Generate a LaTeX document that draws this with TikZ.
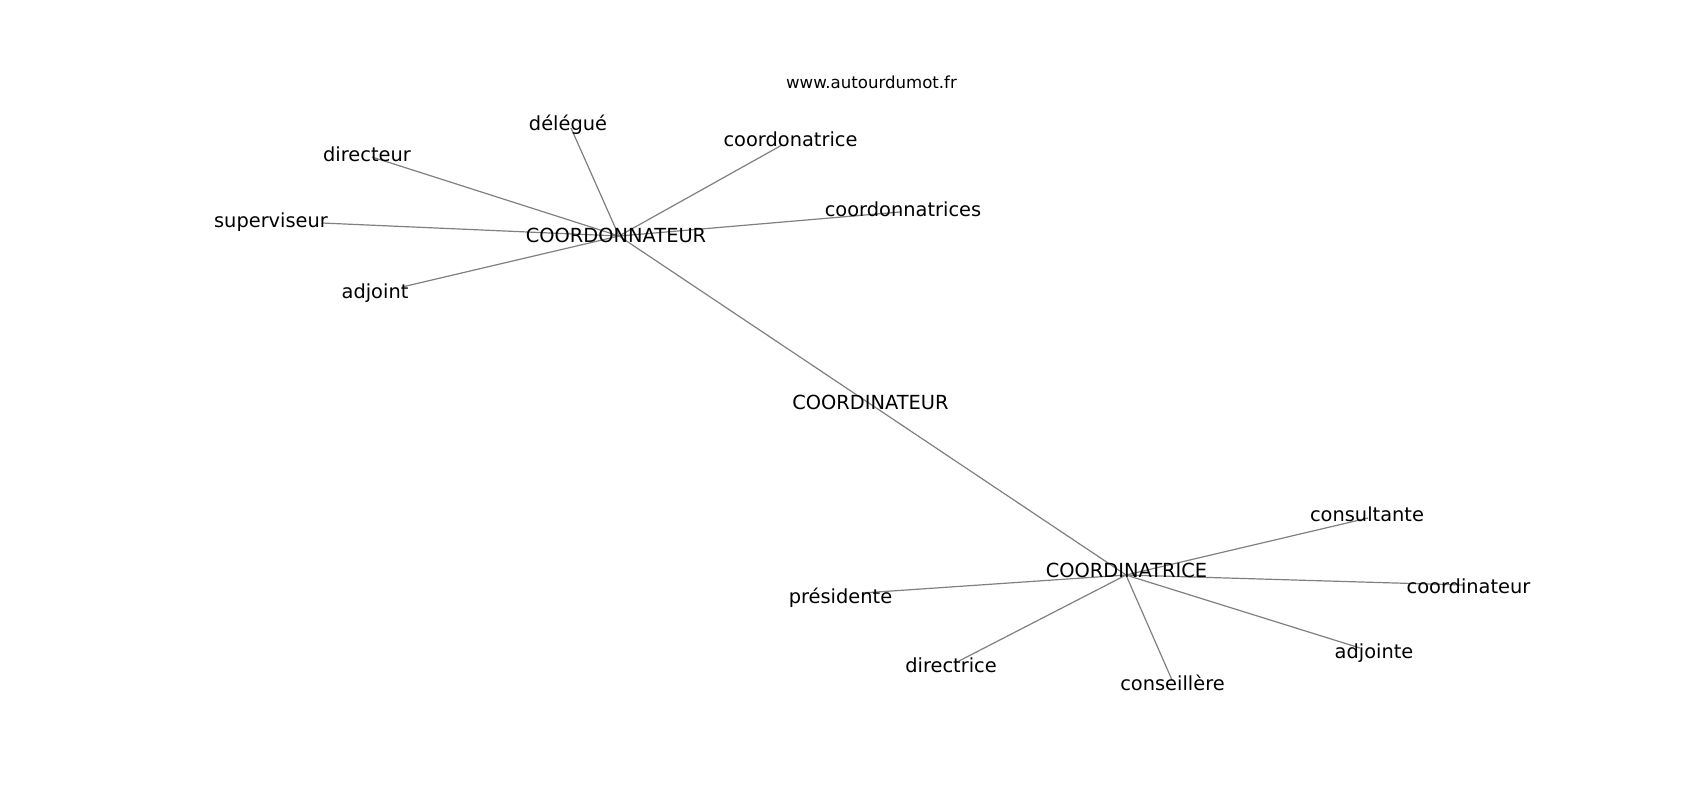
\documentclass[tikz,border=0pt]{standalone}
\usepackage{fontspec}
\setmainfont{DejaVu Sans}
\begin{document}
\begin{tikzpicture}[x=0.5pt,y=-0.5pt,
  lbl/.style={anchor=base, inner sep=0pt, text=black, font=\fontsize{9.7}{11}\selectfont},
  small/.style={anchor=base, inner sep=0pt, text=black, font=\fontsize{8.3}{10}\selectfont},
  edge/.style={draw=black!50, line width=0.6pt}]
\useasboundingbox (0,0) rectangle (1700,800);
\fill[white] (0,0) rectangle (1700,800);
% node positions
\coordinate (h1) at (619,236);
\coordinate (h2) at (1126,575);
\coordinate (c) at (870,403.8);
\coordinate (p-delegue) at (571,128);
\coordinate (p-directeur) at (372,157);
\coordinate (p-superviseur) at (322,223);
\coordinate (p-adjoint) at (402,287);
\coordinate (p-coordonatrice) at (782,145);
\coordinate (p-coordonnatrices) at (900,212);
\coordinate (p-consultante) at (1368,518);
\coordinate (p-coordinateur) at (1463,585);
\coordinate (p-adjointe) at (1360,648);
\coordinate (p-conseillere) at (1172,680);
\coordinate (p-directrice) at (957,662);
\coordinate (p-presidente) at (862,593);
% edges
\draw[edge] (h1) -- (c) -- (h2);
\foreach \n in {delegue,directeur,superviseur,adjoint,coordonatrice,coordonnatrices}
  \draw[edge] (h1) -- (p-\n);
\foreach \n in {consultante,coordinateur,adjointe,conseillere,directrice,presidente}
  \draw[edge] (h2) -- (p-\n);
% labels
\node[small] (www) at (871.5,88) {www.autourdumot.fr};
\node[lbl] (t-h1) at (616,242) {COORDONNATEUR};
\node[lbl] (t-c) at (870.5,409) {COORDINATEUR};
\node[lbl] (t-h2) at (1126.5,577) {COORDINATRICE};
\node[lbl] (t-delegue) at (568,130) {délégué};
\node[lbl] (t-directeur) at (367,161) {directeur};
\node[lbl] (t-superviseur) at (271,227) {superviseur};
\node[lbl] (t-adjoint) at (375,298) {adjoint};
\node[lbl] (t-coordonatrice) at (790.5,146) {coordonatrice};
\node[lbl] (t-coordonnatrices) at (903,216) {coordonnatrices};
\node[lbl] (t-consultante) at (1367,521) {consultante};
\node[lbl] (t-coordinateur) at (1468.5,593) {coordinateur};
\node[lbl] (t-adjointe) at (1374,658) {adjointe};
\node[lbl] (t-directrice) at (951,672) {directrice};
\node[lbl] (t-conseillere) at (1172.5,690) {conseillère};
\node[lbl] (t-presidente) at (840.5,603) {présidente};
\end{tikzpicture}
\end{document}
